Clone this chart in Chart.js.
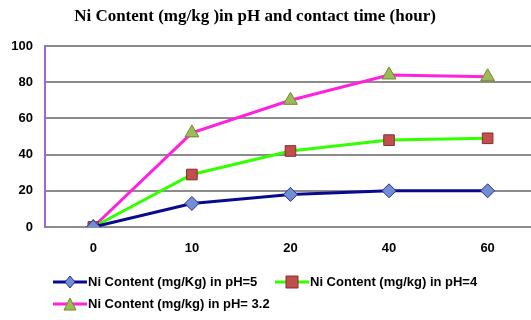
<!DOCTYPE html>
<html>
<head>
<meta charset="utf-8">
<script src="https://cdn.jsdelivr.net/npm/chart.js@4/dist/chart.umd.min.js"></script>
<style>
  html, body { margin: 0; padding: 0; background: #fff; overflow: hidden; }
  /* a bit wider than the window so the grid runs off the right edge */
  #wrap { width: 540px; height: 320px; position: relative; }
</style>
</head>
<body>
<div id="wrap"><canvas id="chart"></canvas></div>
<script>
// contact time (hour) categories
var times = ["0", "10", "20", "40", "60"];
// Ni content (mg/kg)
var ph5  = [0, 13, 18, 20, 20];
var ph4  = [0, 29, 42, 48, 49];
var ph32 = [0, 52, 70, 84, 83];
var yTicks = [0, 20, 40, 60, 80, 100];

var titleText = "Ni Content (mg/kg )in pH and contact time (hour)";

// x values are category positions, labels come from times[]
function pts(arr) {
    return arr.map(function(v, i){ return { x: i, y: v }; });
}

// small canvas for legend entry: line + marker
function legendIcon(lineColor, style, fill, border) {
    var c = document.createElement("canvas");
    c.width = 34; c.height = 14;
    var g = c.getContext("2d");
    g.strokeStyle = lineColor;
    g.lineWidth = 3;
    g.beginPath(); g.moveTo(0, 7); g.lineTo(34, 7); g.stroke();
    g.fillStyle = fill;
    g.strokeStyle = border;
    g.lineWidth = 1;
    g.beginPath();
    if (style == "rectRot") {
        g.moveTo(17, 1); g.lineTo(22, 7); g.lineTo(17, 13); g.lineTo(12, 7);
    } else if (style == "rect") {
        g.rect(11, 1, 12, 12);
    } else {
        g.moveTo(17, 1); g.lineTo(23, 13); g.lineTo(11, 13);
    }
    g.closePath(); g.fill(); g.stroke();
    return c;
}

var series = [
    { label: "Ni Content (mg/Kg) in pH=5",  data: ph5,  line: "#0a0a8c", style: "rectRot",  fill: "#6f8fd0", border: "#2a2aa0", r: 7 },
    { label: "Ni Content (mg/kg) in pH=4",  data: ph4,  line: "#33ff00", style: "rect",     fill: "#c0504d", border: "#8c2a28", r: 7.5 },
    { label: "Ni Content (mg/kg) in pH= 3.2", data: ph32, line: "#ff22dd", style: "triangle", fill: "#9bbb59", border: "#76852c", r: 8 }
];

// title + legend drawn like the excel original
var decor = {
    id: "decor",
    afterDraw: function(chart) {
        var ctx = chart.ctx;
        ctx.save();
        ctx.fillStyle = "#000";
        ctx.font = "bold 17px 'Liberation Serif', 'DejaVu Serif', serif";
        ctx.textAlign = "center";
        ctx.textBaseline = "middle";
        ctx.fillText(titleText, 255, 17);

        ctx.font = "bold 13px 'Liberation Sans Narrow', 'Liberation Sans', Arial, sans-serif";
        ctx.textAlign = "left";
        var spots = [[53, 282], [275, 282], [53, 304]];
        series.forEach(function(s, i) {
            var x = spots[i][0], y = spots[i][1];
            ctx.drawImage(legendIcon(s.line, s.style, s.fill, s.border), x, y - 7);
            ctx.fillStyle = "#000";
            ctx.fillText(s.label, x + 35, y);
        });
        ctx.restore();
    }
};

new Chart(document.getElementById("chart"), {
    type: "line",
    data: {
        datasets: series.map(function(s) {
            return {
                label: s.label,
                data: pts(s.data),
                borderColor: s.line,
                backgroundColor: s.fill,
                borderWidth: 3,
                pointStyle: s.style,
                pointRadius: s.r,
                pointHoverRadius: s.r,
                pointBackgroundColor: s.fill,
                pointBorderColor: s.border,
                pointBorderWidth: 1,
                tension: 0
            };
        })
    },
    options: {
        responsive: true,
        maintainAspectRatio: false,
        animation: false,
        layout: { padding: { top: 46, bottom: 63, left: 0, right: 0 } },
        plugins: {
            legend: { display: false },
            title: { display: false },
            tooltip: { enabled: false }
        },
        scales: {
            x: {
                type: "linear",
                min: -0.49,
                max: 4.44,
                grid: { display: false, drawTicks: false },
                border: { display: false },
                afterFit: function(scale) { scale.height = 30; },
                afterBuildTicks: function(scale) {
                    scale.ticks = times.map(function(t, i){ return { value: i }; });
                },
                ticks: {
                    padding: 14,
                    maxRotation: 0,
                    color: "#000",
                    font: { family: "'Liberation Sans Narrow', 'Liberation Sans', sans-serif", size: 13, weight: "bold" },
                    callback: function(v) { return times[v]; }
                }
            },
            y: {
                min: 0,
                max: 100,
                afterBuildTicks: function(scale) {
                    scale.ticks = yTicks.map(function(v){ return { value: v }; });
                },
                afterFit: function(scale) { scale.width = 45; },
                grid: { color: "#8c8c8c", lineWidth: 2, drawTicks: false },
                border: { display: true, color: "#9966dd", width: 2 },
                ticks: {
                    padding: 12,
                    color: "#000",
                    font: { family: "'Liberation Sans Narrow', 'Liberation Sans', sans-serif", size: 13, weight: "bold" }
                }
            }
        }
    },
    plugins: [decor]
});
</script>
</body>
</html>
